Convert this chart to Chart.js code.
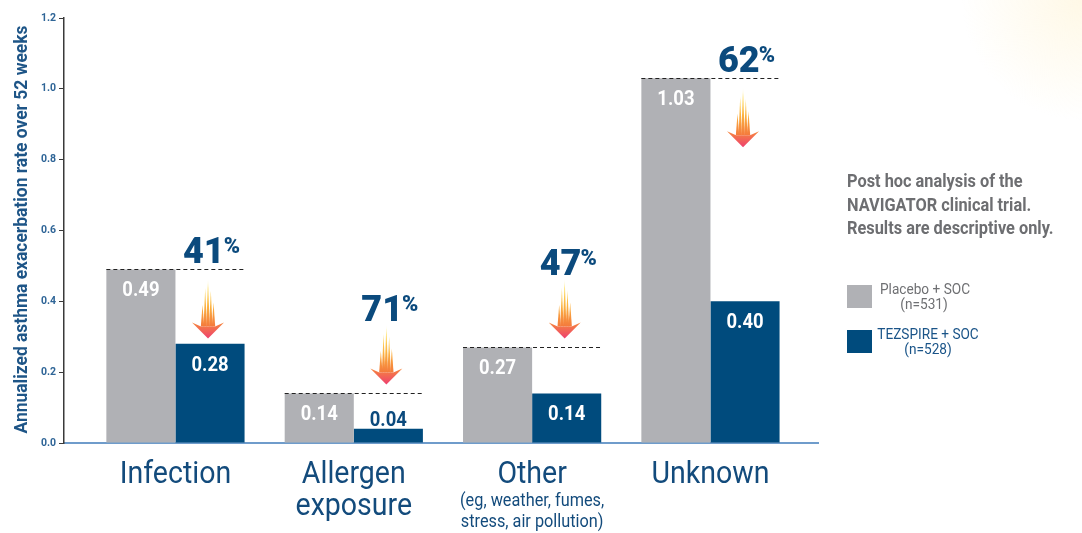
<!DOCTYPE html>
<html>
<head>
<meta charset="utf-8">
<script src="https://cdn.jsdelivr.net/npm/chart.js@4.4.0/dist/chart.umd.min.js"></script>
<style>
    html, body { margin: 0; padding: 0; background: #fff; }
    #wrap { position: relative; width: 1082px; height: 533px; }
</style>
</head>
<body>
<div id="wrap"><canvas id="myChart" width="1082" height="533"></canvas></div>
<script>
/* ===== DATA ===== */
const categories = ['Infection', 'Allergen exposure', 'Other', 'Unknown'];
const categoryLines = [['Infection'], ['Allergen', 'exposure'], ['Other'], ['Unknown']];
const categoryNotes = [[], [], ['(eg, weather, fumes,', 'stress, air pollution)'], []];
const placeboRates = [0.49, 0.14, 0.27, 1.03];
const tezspireRates = [0.28, 0.04, 0.14, 0.40];
const reductions = ['41', '71', '47', '62'];
const seriesNames = [['Placebo + SOC', '(n=531)'], ['TEZSPIRE + SOC', '(n=528)']];
const yTicks = [0, 0.2, 0.4, 0.6, 0.8, 1.0, 1.2];
const yTitle = 'Annualized asthma exacerbation rate over 52 weeks';
const noteLines = ['Post hoc analysis of the', 'NAVIGATOR clinical trial.', 'Results are descriptive only.'];

const FONT = 'Roboto, "Open Sans", sans-serif';
const SQ = 0.88; // fake a condensed face

/* ===== HELPERS ===== */
function squeeze(ctx, txt, x, y, sx) {
    ctx.save();
    ctx.translate(x, y);
    ctx.scale(sx, 1);
    ctx.fillText(txt, 0, 0);
    ctx.restore();
}

function drawArrow(ctx, cx, top, h) {
    const headH = 16, headW = 16;
    const hTop = top + h - headH;

    // streaky shaft
    const sg = ctx.createLinearGradient(0, top, 0, hTop + 4);
    sg.addColorStop(0, 'rgba(255,236,120,0)');
    sg.addColorStop(0.2, '#ffe066');
    sg.addColorStop(0.6, '#fbb040');
    sg.addColorStop(1, '#f47a3c');
    ctx.fillStyle = sg;
    [[-5.5, 0.45], [-2.8, 0.8], [0, 1], [2.8, 0.75], [5.5, 0.5]].forEach(([dx, f]) => {
        const st = hTop + 4 - (hTop + 4 - top) * f;
        ctx.beginPath();
        ctx.moveTo(cx + dx, st);
        ctx.lineTo(cx + dx + 1.7, hTop + 4);
        ctx.lineTo(cx + dx - 1.7, hTop + 4);
        ctx.closePath();
        ctx.fill();
    });

    // head
    const hg = ctx.createLinearGradient(0, hTop, 0, top + h);
    hg.addColorStop(0, '#f6883c');
    hg.addColorStop(1, '#ee4070');
    ctx.fillStyle = hg;
    ctx.beginPath();
    ctx.moveTo(cx - headW, hTop);
    ctx.lineTo(cx - 7, hTop + 4);
    ctx.lineTo(cx + 7, hTop + 4);
    ctx.lineTo(cx + headW, hTop);
    ctx.lineTo(cx, top + h);
    ctx.closePath();
    ctx.fill();
}

function drawPercent(ctx, cx, base, num) {
    ctx.fillStyle = '#0b4a7d';
    ctx.textAlign = 'left';
    ctx.textBaseline = 'alphabetic';
    ctx.font = `900 36px ${FONT}`;
    const w1 = ctx.measureText(num).width;
    ctx.font = `900 22px ${FONT}`;
    const w2 = ctx.measureText('%').width;
    const x0 = cx - (w1 + w2) / 2;
    ctx.font = `900 36px ${FONT}`;
    ctx.fillText(num, x0, base);
    ctx.font = `900 22px ${FONT}`;
    ctx.fillText('%', x0 + w1 - 1, base - 10);
}

/* ===== ANNOTATIONS ===== */
const annotate = {
    id: 'annotate',
    beforeDraw(chart) {
        const ctx = chart.ctx;
        // faint warm glow in the corner
        const g = ctx.createRadialGradient(1082, 0, 0, 1082, 0, 120);
        g.addColorStop(0, 'rgba(255,243,210,0.55)');
        g.addColorStop(1, 'rgba(255,243,210,0)');
        ctx.save();
        ctx.fillStyle = g;
        ctx.fillRect(950, 0, 132, 120);
        ctx.restore();
    },
    afterDatasetsDraw(chart) {
        const { ctx, scales: { y } } = chart;
        const pMeta = chart.getDatasetMeta(0);
        const tMeta = chart.getDatasetMeta(1);
        ctx.save();
        categories.forEach((c, i) => {
            const pb = pMeta.data[i], tb = tMeta.data[i];
            const left = pb.x - pb.width / 2;
            const right = tb.x + tb.width / 2;
            const yp = y.getPixelForValue(placeboRates[i]);
            const yt = y.getPixelForValue(tezspireRates[i]);

            // dashed reference line at placebo level
            ctx.setLineDash([4, 3]);
            ctx.strokeStyle = '#222';
            ctx.lineWidth = 1;
            ctx.beginPath();
            ctx.moveTo(left, Math.round(yp) + 0.5);
            ctx.lineTo(right, Math.round(yp) + 0.5);
            ctx.stroke();
            ctx.setLineDash([]);

            // value labels
            ctx.font = `bold 21px ${FONT}`;
            ctx.textAlign = 'center';
            ctx.textBaseline = 'alphabetic';
            [[pb, placeboRates[i]], [tb, tezspireRates[i]]].forEach(([bar, v]) => {
                const inside = bar.base - bar.y > 30;
                ctx.fillStyle = inside ? '#ffffff' : '#0b4a7d';
                squeeze(ctx, v.toFixed(2), bar.x, inside ? bar.y + 27 : bar.y - 3, SQ);
            });

            // arrow + reduction
            const arrowH = 60;
            let arrowTop, textBase;
            if (yt - yp > arrowH + 8) {
                arrowTop = yp + 9;
                textBase = yp - 6;
            } else {
                arrowTop = yp - 9 - arrowH;
                textBase = arrowTop - 3;
            }
            drawArrow(ctx, tb.x - 2, arrowTop, arrowH);
            drawPercent(ctx, tb.x + 2, textBase, reductions[i]);
        });
        ctx.restore();
    },
    afterDraw(chart) {
        const { ctx, chartArea, scales: { x } } = chart;
        ctx.save();

        // y axis title
        ctx.fillStyle = '#1e5587';
        ctx.font = `bold 18px ${FONT}`;
        ctx.textAlign = 'center';
        ctx.textBaseline = 'middle';
        const tw = ctx.measureText(yTitle).width;
        ctx.translate(22, (chartArea.top + chartArea.bottom) / 2 - 1);
        ctx.rotate(-Math.PI / 2);
        ctx.scale(Math.min(1, 408 / tw), 1);
        ctx.fillText(yTitle, 0, 0);
        ctx.restore();

        // category labels
        ctx.save();
        ctx.textAlign = 'center';
        ctx.textBaseline = 'alphabetic';
        ctx.fillStyle = '#134b7c';
        categories.forEach((c, i) => {
            const cx = x.getPixelForValue(i);
            let base = chartArea.bottom + 40;
            ctx.font = `31px ${FONT}`;
            categoryLines[i].forEach(line => {
                squeeze(ctx, line, cx, base, 0.92);
                base += 32;
            });
            base -= 9;
            ctx.font = `18.5px ${FONT}`;
            categoryNotes[i].forEach(line => {
                squeeze(ctx, line, cx, base, SQ);
                base += 21;
            });
        });

        // side note
        ctx.textAlign = 'left';
        ctx.fillStyle = '#6d6e71';
        ctx.font = `bold 19px ${FONT}`;
        noteLines.forEach((line, k) => squeeze(ctx, line, 847, 187 + k * 23.5, 0.86));

        // legend
        const textColors = ['#6f7073', '#1a5488'];
        chart.data.datasets.forEach((ds, k) => {
            const top = 285 + k * 45;
            ctx.fillStyle = ds.backgroundColor;
            ctx.fillRect(847, top, 25, 23);
            ctx.fillStyle = textColors[k];
            ctx.font = `15.5px ${FONT}`;
            ctx.textAlign = 'center';
            squeeze(ctx, seriesNames[k][0], 925 + k * 3, top + 9, SQ);
            squeeze(ctx, seriesNames[k][1], 924 + k * 4, top + 24, SQ);
        });
        ctx.restore();
    }
};

/* ===== CHART ===== */
Chart.defaults.font.family = FONT;

const ctx = document.getElementById('myChart').getContext('2d');

const rateChart = new Chart(ctx, {
    type: 'bar',
    data: {
        datasets: [{
            label: seriesNames[0].join(' '),
            data: placeboRates.map((v, i) => ({ x: i, y: v })),
            backgroundColor: '#b0b1b5',
            barPercentage: 1,
            categoryPercentage: 0.775,
        }, {
            label: seriesNames[1].join(' '),
            data: tezspireRates.map((v, i) => ({ x: i, y: v })),
            backgroundColor: '#004b7d',
            barPercentage: 1,
            categoryPercentage: 0.775,
        }],
    },
    options: {
        responsive: false,
        animation: false,
        devicePixelRatio: 1,
        layout: {
            padding: { left: 0, top: 18, right: 264, bottom: 0 },
        },
        scales: {
            x: {
                type: 'linear',
                offset: false,
                min: -0.625,
                max: 3.603,
                afterBuildTicks: s => { s.ticks = categories.map((c, i) => ({ value: i })); },
                afterFit: s => { s.height = 90; },
                ticks: { display: false },
                grid: { display: false },
                border: { display: true, color: '#6f9ccb', width: 2 },
            },
            y: {
                min: 0,
                max: 1.2,
                afterBuildTicks: s => { s.ticks = yTicks.map(v => ({ value: v })); },
                afterFit: s => { s.width = 64; },
                ticks: {
                    color: '#2f6597',
                    padding: 3,
                    font: { size: 10.5, weight: 'bold' },
                    callback: v => Number(v).toFixed(1),
                },
                grid: { drawOnChartArea: false, tickLength: 5, color: '#3a3a3a' },
                border: { display: true, color: '#3a3a3a', width: 1.5 },
            },
        },
        plugins: {
            legend: { display: false },
            tooltip: { enabled: false },
        },
    },
    plugins: [annotate],
});
</script>
</body>
</html>
